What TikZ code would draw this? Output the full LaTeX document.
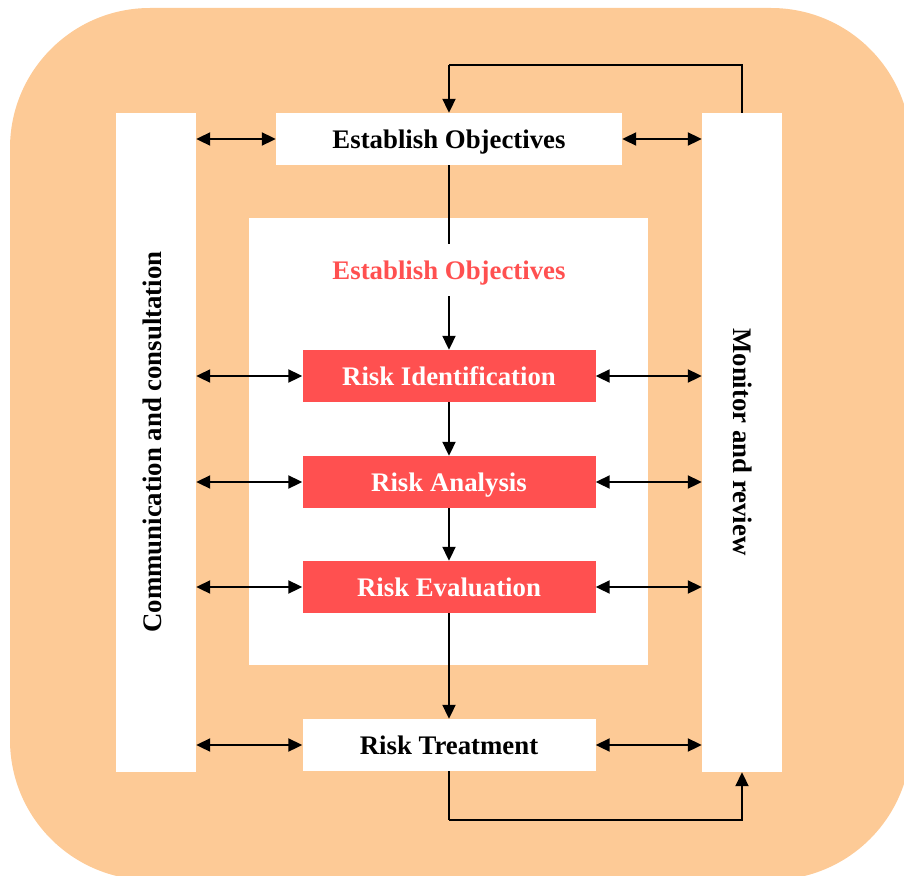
\documentclass[tikz,border=0pt]{standalone}
\usepackage{fontspec}
\setmainfont{Liberation Serif}
\usetikzlibrary{arrows.meta}
\definecolor{peach}{HTML}{FDCA96}
\definecolor{riskred}{HTML}{FF5050}
\begin{document}
\begin{tikzpicture}[x=1pt,y=-1pt,
  every node/.style={font=\fontsize{26.8}{30}\selectfont\bfseries, inner sep=0pt},
  lbl/.style={text height=18pt, text depth=0pt},
  panel/.style={fill=white, draw=none},
  redbox/.style={lbl, fill=riskred, text=white, minimum width=293pt, minimum height=52pt},
  whitebox/.style={lbl, fill=white, text=black, minimum width=293pt, minimum height=52pt},
  conn/.style={line width=2pt, black},
  arr/.style={conn, -{Triangle[length=14pt,width=13pt]}},
  darr/.style={conn, {Triangle[length=14pt,width=13pt]}-{Triangle[length=14pt,width=13pt]}}
]
\useasboundingbox (0,0) rectangle (904,875);
\begin{scope}
\clip (0,0) rectangle (904,875);
\fill[peach, rounded corners=140pt] (10,8) rectangle (911,880);
\end{scope}

% side panels
\node[panel, minimum width=80pt, minimum height=659pt] (L) at (156,442.5) {};
\node[panel, minimum width=80pt, minimum height=659pt] (R) at (742,442.5) {};
\node[rotate=90] (Ltext) at (152,442) {Communication and consultation};
\node[rotate=-90] (Rtext) at (743,442) {Monitor and review};

% inner panel
\node[panel, minimum width=399pt, minimum height=447pt] (I) at (448.5,441.5) {};

% boxes
\node[whitebox, minimum width=346pt] (E) at (449,139) {Establish Objectives};
\node[lbl, text=riskred] (E2) at (449,270) {Establish Objectives};
\node[redbox] (RI) at (449,376) {Risk Identification};
\node[redbox] (RA) at (449,482) {Risk Analysis};
\node[redbox] (RE) at (449,587) {Risk Evaluation};
\node[whitebox] (RT) at (449,745) {Risk Treatment};

% coordinates
\coordinate (topturn) at (449,65);
\coordinate (botturn) at (449,820);
\coordinate (Eend) at (449,244);
\coordinate (E2start) at (449,296);

% top loop
\draw[conn] (R.north) |- (topturn);
\draw[arr] (topturn) -- (E.north);
% bottom loop
\draw[conn] (RT.south) -- (botturn);
\draw[arr] (botturn) -| (R.south);

% vertical flow
\draw[conn] (E.south) -- (Eend);
\draw[arr] (E2start) -- (RI.north);
\draw[arr] (RI.south) -- (RA.north);
\draw[arr] (RA.south) -- (RE.north);
\draw[arr] (RE.south) -- (RT.north);

% double arrows
\foreach \b in {E,RI,RA,RE,RT}{
  \draw[darr] (L.east |- \b.west) -- (\b.west);
  \draw[darr] (\b.east) -- (R.west |- \b.east);
}
\end{tikzpicture}
\end{document}
